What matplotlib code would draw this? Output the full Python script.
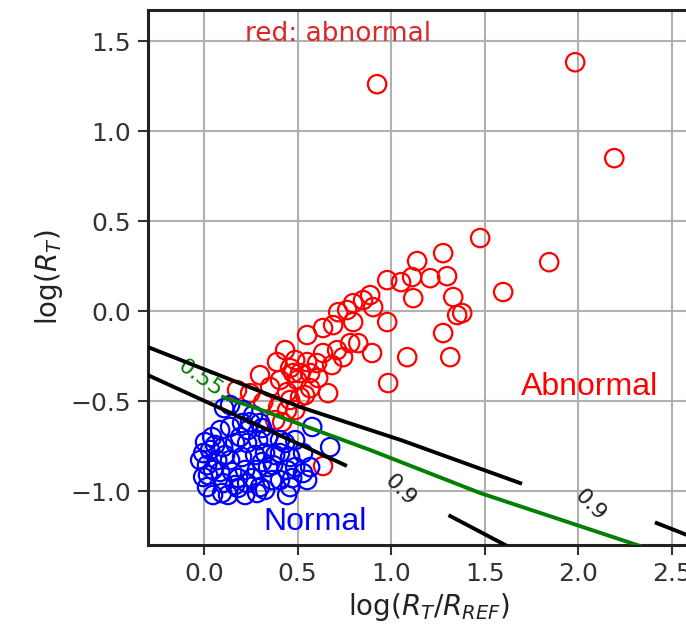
import matplotlib
matplotlib.use("Agg")
import matplotlib.pyplot as plt

# abnormal cases (red)
red_x = [0.925, 1.984, 2.193, 1.845, 1.599, 1.476, 1.278, 1.139, 1.299, 1.209,
         1.112, 1.053, 0.979, 1.118, 1.332, 1.353, 1.380, 1.278, 1.316, 1.086,
         0.979, 0.984, 0.888, 0.850, 0.797, 0.765, 0.717, 0.904, 0.797, 0.690,
         0.636, 0.551, 0.781, 0.824, 0.898, 0.743, 0.636, 0.604, 0.684, 0.551,
         0.567, 0.476, 0.390, 0.299, 0.497, 0.567, 0.663, 0.353, 0.444, 0.460,
         0.513, 0.711, 0.176, 0.316, 0.396, 0.444, 0.487, 0.513, 0.380, 0.417,
         0.636, 0.246, 0.460, 0.540, 0.610, 0.433, 0.487, 0.406]
red_y = [1.261, 1.383, 0.850, 0.272, 0.106, 0.406, 0.322, 0.278, 0.194, 0.183,
         0.189, 0.161, 0.172, 0.072, 0.078, -0.022, -0.011, -0.122, -0.256, -0.256,
         -0.061, -0.400, 0.089, 0.061, 0.044, 0.006, -0.006, 0.022, -0.061, -0.078,
         -0.094, -0.133, -0.178, -0.178, -0.233, -0.256, -0.233, -0.289, -0.300, -0.283,
         -0.344, -0.344, -0.283, -0.356, -0.383, -0.428, -0.456, -0.422, -0.450, -0.317,
         -0.344, -0.217, -0.439, -0.506, -0.533, -0.550, -0.550, -0.478, -0.606, -0.617,
         -0.861, -0.456, -0.494, -0.467, -0.372, -0.217, -0.272, -0.383]

# normal cases (blue)
blue_x = [0.139, 0.209, 0.262, 0.299, 0.043, 0.005, -0.005, 0.016, -0.005, 0.016,
          0.048, 0.086, 0.139, 0.203, 0.246, 0.102, 0.166, 0.230, 0.289, 0.342,
          0.070, 0.139, 0.203, 0.273, 0.326, 0.086, 0.150, 0.219, 0.283, 0.342,
          0.102, 0.166, 0.230, 0.299, 0.364, 0.096, 0.182, 0.283, 0.433, 0.406,
          0.460, 0.369, 0.444, 0.487, 0.406, 0.471, 0.529, 0.460, 0.444, 0.529,
          0.567, 0.551, 0.578, 0.674, 0.059, 0.021, 0.128, 0.219, 0.326, 0.380,
          0.235, 0.310, 0.193, 0.112, 0.048, 0.182, 0.257, 0.310, 0.406, 0.487,
          0.107, -0.021, 0.032]
blue_y = [-0.522, -0.550, -0.578, -0.622, -0.700, -0.728, -0.789, -0.856, -0.922, -0.978,
          -1.022, -0.661, -0.644, -0.622, -0.617, -0.756, -0.733, -0.733, -0.717, -0.700,
          -0.828, -0.828, -0.811, -0.800, -0.789, -0.894, -0.894, -0.883, -0.883, -0.867,
          -0.956, -0.967, -0.956, -0.978, -0.939, -1.011, -0.983, -1.011, -0.733, -0.789,
          -0.811, -0.856, -0.883, -0.867, -0.939, -0.928, -0.900, -0.978, -1.022, -0.789,
          -0.867, -0.939, -0.644, -0.756, -0.744, -0.911, -1.022, -1.022, -0.994, -0.800,
          -0.661, -0.650, -0.700, -0.800, -0.883, -0.928, -0.928, -0.839, -0.717, -0.717,
          -0.539, -0.828, -0.772]

# contour traces (probability 0.9 boundaries and 0.55 boundary)
upper_a_x = [-0.30, 0.513, 1.053, 1.69]
upper_a_y = [-0.20, -0.533, -0.717, -0.956]
upper_b_x = [2.42, 2.62]
upper_b_y = [-1.178, -1.26]
lower_a_x = [-0.30, 0.754]
lower_a_y = [-0.356, -0.856]
lower_b_x = [1.316, 1.61]
lower_b_y = [-1.139, -1.30]
green_x = [0.102, 0.262, 0.888, 1.476, 2.332]
green_y = [-0.478, -0.533, -0.772, -1.011, -1.306]

fig = plt.figure(figsize=(6.86, 6.4), dpi=100)
ax = fig.add_axes([0.2157, 0.1484, 0.818, 0.8356])

ax.scatter(red_x, red_y, s=175, facecolors='none', edgecolors='red', linewidths=1.6, zorder=3)
ax.scatter(blue_x, blue_y, s=175, facecolors='none', edgecolors='blue', linewidths=1.6, zorder=3)

ax.plot(upper_a_x, upper_a_y, color='black', lw=2.8, zorder=4)
ax.plot(upper_b_x, upper_b_y, color='black', lw=2.8, zorder=4)
ax.plot(lower_a_x, lower_a_y, color='black', lw=2.8, zorder=4)
ax.plot(lower_b_x, lower_b_y, color='black', lw=2.8, zorder=4)
ax.plot(green_x, green_y, color='green', lw=2.8, zorder=4)

ax.text(1.048, -0.994, '0.9', fontsize=16, rotation=-45, ha='center', va='center', color='#222222')
ax.text(2.064, -1.078, '0.9', fontsize=16, rotation=-45, ha='center', va='center', color='#222222')
ax.text(-0.021, -0.372, '0.55', fontsize=16, rotation=-35, ha='center', va='center', color='green')

ax.text(0.717, 1.539, 'red: abnormal', fontsize=19, color='#d82828', ha='center', va='center')
ax.text(2.059, -0.422, 'Abnormal', fontsize=23, color='red', family='Liberation Sans',
        ha='center', va='center')
ax.text(0.594, -1.172, 'Normal', fontsize=23, color='blue', family='Liberation Sans',
        ha='center', va='center')

ax.set_xlim(-0.30, 2.70)
ax.set_ylim(-1.30, 1.672)
ax.set_xticks([0.0, 0.5, 1.0, 1.5, 2.0, 2.5])
ax.set_yticks([-1.0, -0.5, 0.0, 0.5, 1.0, 1.5])
ax.grid(True, color='#b0b0b0', lw=1.5)
ax.set_axisbelow(True)
ax.tick_params(labelsize=18, length=7, width=1.5, pad=5, colors='#333333')
for side in ['left', 'top', 'bottom', 'right']:
    ax.spines[side].set_linewidth(2.2)
    ax.spines[side].set_color('#222222')

ax.set_xlabel(r'log($R_T/R_{REF}$)', fontsize=20, color='#222222')
ax.set_ylabel(r'log($R_T$)', fontsize=20, color='#222222')

fig.savefig('out.png', dpi=100)
